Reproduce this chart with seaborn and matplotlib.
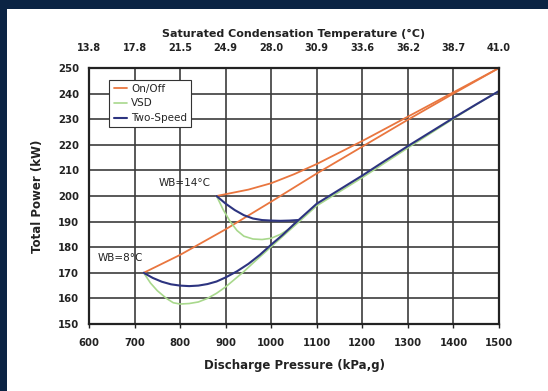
import numpy as np
import pandas as pd
import matplotlib
matplotlib.use("Agg")
import matplotlib.pyplot as plt
import seaborn as sns
from matplotlib.patches import Rectangle

# ── Données ────────────────────────────────────────────────────────────
pression_ticks = [600, 700, 800, 900, 1000, 1100, 1200, 1300, 1400, 1500]
temp_labels = ["13.8", "17.8", "21.5", "24.9", "28.0", "30.9", "33.6", "36.2", "38.7", "41.0"]

# On/Off
onoff_wb8_x = [720, 800, 900, 1000, 1100, 1200, 1300, 1400, 1500]
onoff_wb8_y = [170, 177, 187, 197.8, 208.8, 219.3, 229.8, 240, 250]
onoff_wb14_x = [880, 950, 1000, 1050, 1100, 1200, 1300, 1400, 1500]
onoff_wb14_y = [200, 202.5, 205, 208.5, 212.5, 221.5, 231, 240.5, 250]

# Two-Speed
two_wb8_x = [720, 740, 760, 780, 800, 820, 840, 860, 880, 900, 925, 950, 975,
             1000, 1025, 1050, 1075, 1100, 1150, 1200, 1250, 1300, 1350, 1400, 1450, 1500]
two_wb8_y = [170, 168, 166.5, 165.5, 165, 164.8, 165, 165.6, 166.6, 168.2, 170.6, 173.5, 177,
             181, 184.8, 189, 193, 197, 202.5, 208, 213.8, 219.5, 225, 230.5, 235.8, 241]
two_wb14_x = [880, 900, 920, 940, 960, 980, 1000, 1020, 1040, 1058]
two_wb14_y = [200, 197, 194.5, 192.5, 191.2, 190.6, 190.4, 190.3, 190.4, 190.6]

# VSD
vsd_wb8_x = [720, 735, 750, 770, 785, 800, 820, 840, 860, 880, 900, 920, 940, 960,
             1000, 1050, 1100, 1150, 1200, 1250, 1300, 1350, 1400, 1450, 1500]
vsd_wb8_y = [170, 166, 163, 160, 158.3, 157.8, 158, 158.6, 160, 162, 164.5, 167.5, 170.5, 173.8,
             180.2, 188.2, 196.2, 201.7, 207.2, 213, 218.8, 224.5, 230.2, 235.7, 241]
vsd_wb14_x = [880, 895, 910, 925, 940, 960, 980, 1000, 1020, 1040, 1060]
vsd_wb14_y = [200, 194.5, 190, 186.5, 184.3, 183.2, 183, 183.5, 185, 187.2, 189.8]

couleurs = {'On/Off': '#E9763F', 'VSD': '#A8D88C', 'Two-Speed': '#2D3480'}

sns.set_style("white")
plt.rcParams['font.family'] = ['DejaVu Sans']

fig = plt.figure(figsize=(5.48, 3.91), dpi=100)
fig.patch.set_facecolor('white')
# bandeau bleu foncé (haut et gauche)
fig.patches.append(Rectangle((0, 1 - 9 / 391), 1, 9 / 391, transform=fig.transFigure,
                             facecolor='#0B2444', edgecolor='none'))
fig.patches.append(Rectangle((0, 0), 7 / 548, 1, transform=fig.transFigure,
                             facecolor='#0B2444', edgecolor='none'))

ax = fig.add_axes([89 / 548, 1 - 324 / 391, 410 / 548, 256 / 391])

# ── Courbes ────────────────────────────────────────────────────────────
sns.lineplot(x=onoff_wb8_x, y=onoff_wb8_y, color=couleurs['On/Off'], lw=1.3, ax=ax, label='On/Off')
sns.lineplot(x=onoff_wb14_x, y=onoff_wb14_y, color=couleurs['On/Off'], lw=1.3, ax=ax)
sns.lineplot(x=vsd_wb8_x, y=vsd_wb8_y, color=couleurs['VSD'], lw=1.2, ax=ax, label='VSD')
sns.lineplot(x=vsd_wb14_x, y=vsd_wb14_y, color=couleurs['VSD'], lw=1.2, ax=ax)
sns.lineplot(x=two_wb8_x, y=two_wb8_y, color=couleurs['Two-Speed'], lw=1.5, ax=ax, label='Two-Speed')
sns.lineplot(x=two_wb14_x, y=two_wb14_y, color=couleurs['Two-Speed'], lw=1.5, ax=ax)

ax.set_xlim(600, 1500)
ax.set_ylim(150, 250)
ax.set_xticks(pression_ticks)
ax.set_yticks(range(150, 251, 10))
ax.tick_params(axis='both', labelsize=7.3, colors='#222222', length=3, width=1)
ax.tick_params(axis='x', pad=7)
ax.tick_params(axis='y', pad=4)
for lab in ax.get_xticklabels() + ax.get_yticklabels():
    lab.set_fontweight('bold')
ax.grid(True, color='#3c3c3c', lw=1.2)
for s in ax.spines.values():
    s.set_color('#222222')
    s.set_linewidth(1.6)

ax.set_xlabel('Discharge Pressure (kPa,g)', fontsize=8.5, fontweight='bold', color='#222222', labelpad=8)
ax.set_ylabel('Total Power (kW)', fontsize=8.5, fontweight='bold', color='#222222', labelpad=10)

# ── Axe du haut : température de condensation ─────────────────────────
ax2 = ax.twiny()
ax2.set_xlim(ax.get_xlim())
ax2.set_xticks(pression_ticks)
ax2.set_xticklabels(temp_labels, fontweight='bold')
ax2.tick_params(axis='x', labelsize=7, colors='#222222', length=0, pad=11)
ax2.set_xlabel('Saturated Condensation Temperature (°C)', fontsize=8, fontweight='bold',
               color='#222222', labelpad=4)
for s in ax2.spines.values():
    s.set_visible(False)

# ── Annotations ────────────────────────────────────────────────────────
ax.text(811, 205, 'WB=14°C', fontsize=7.5, ha='center', va='center', color='#222222')
ax.text(668, 175.6, 'WB=8°C', fontsize=7.5, ha='center', va='center', color='#222222')

leg = ax.legend(loc='upper left', bbox_to_anchor=(0.037, 0.975), fontsize=7.5, frameon=True,
                fancybox=False, edgecolor='#333333', handlelength=1.3, borderpad=0.4,
                labelspacing=0.45, handletextpad=0.4)
leg.get_frame().set_linewidth(0.8)
leg.get_frame().set_facecolor('white')
leg.get_frame().set_alpha(1)

fig.savefig('out.png', dpi=100)
